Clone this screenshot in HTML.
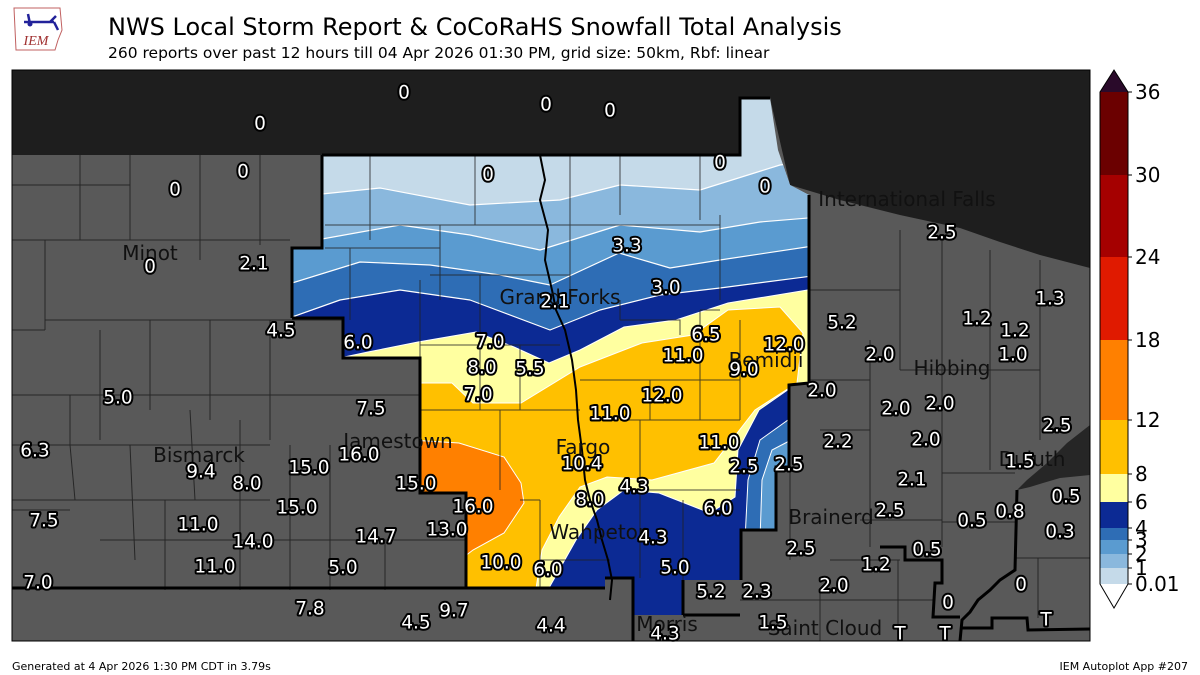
<!DOCTYPE html>
<html><head><meta charset="utf-8"><style>
html,body{margin:0;padding:0;background:#fff;}
svg{display:block;}
.v{font-family:"DejaVu Sans","Liberation Sans",sans-serif;font-size:18.5px;fill:#fff;stroke:#000;stroke-width:4;stroke-linejoin:round;paint-order:stroke;text-anchor:middle;dominant-baseline:central;}
.c{font-family:"DejaVu Sans","Liberation Sans",sans-serif;font-size:20px;fill:#111;text-anchor:middle;dominant-baseline:central;}
.cb{font-family:"DejaVu Sans","Liberation Sans",sans-serif;font-size:20px;fill:#000;dominant-baseline:central;}
</style></head><body>
<svg width="1200" height="675" viewBox="0 0 1200 675" xmlns="http://www.w3.org/2000/svg">
<defs>
<clipPath id="mc"><rect x="12" y="70" width="1078" height="571"/></clipPath>
<clipPath id="cr"><path d="M322,155 L740,155 L740,98 L770,98 L778,150 L790,185 L809,195 L809,383 L789,385 L789,467 L776,467 L776,530 L741,530 L741,580 L683,580 L683,615 L633,615 L633,578 L605,578 L605,588 L466,588 L466,493 L420,493 L420,358 L343,358 L343,318 L292,318 L292,248 L322,248 Z"/></clipPath>
</defs>
<g>
<path d="M14,8 L60,8 L62,30 L58,40 L55,50 L16,50 Z" fill="none" stroke="#c06060" stroke-width="1"/>
<path d="M24,22 L54,22 M30,24 L28,14 M50,22 L56,16 M54,22 L58,30" stroke="#22229a" stroke-width="2.5" fill="none"/>
<circle cx="30" cy="24" r="2.5" fill="#22229a"/>
<text x="36" y="45" font-family="Liberation Serif,serif" font-style="italic" font-size="14" fill="#a03030" text-anchor="middle">IEM</text>
</g>
<text x="108" y="35" font-family="DejaVu Sans,Liberation Sans,sans-serif" font-size="24" fill="#000">NWS Local Storm Report &amp; CoCoRaHS Snowfall Total Analysis</text>
<text x="108" y="58" font-family="DejaVu Sans,Liberation Sans,sans-serif" font-size="15.5" fill="#000">260 reports over past 12 hours till 04 Apr 2026 01:30 PM, grid size: 50km, Rbf: linear</text>

<g clip-path="url(#mc)">
<rect x="12" y="70" width="1078" height="571" fill="#1e1e1e"/>
<path d="M12,155 L322,155 L740,155 L740,98 L770,98 L790,185 L840,200 L900,215 L960,228 L1000,242 L1040,255 L1090,268 L1090,641 L12,641 Z" fill="#595959"/>
<path d="M1090,425 L1067,443 L1047,463 L1027,480 L1017,490 L1030,487 L1043,483 L1060,478 L1090,475 Z" fill="#262626"/>
<g stroke="#262626" stroke-width="1" fill="none">
<path d="M12,185 L130,185 M80,155 L80,240 M130,155 L130,240 M12,240 L290,240 M200,155 L200,260 M260,155 L260,245 M45,320 L345,320 M45,240 L45,330 M12,330 L45,330 M100,330 L100,440 M150,320 L150,410 M210,320 L210,420 M270,320 L270,440 M12,395 L420,395 M70,395 L70,445 M12,445 L270,445 M70,445 L75,500 M130,445 L135,560 M190,410 L195,500 M240,420 L240,590 M290,445 L290,590 M330,445 L330,590 M12,500 L270,500 M12,510 L70,510 M100,540 L465,540 M385,540 L385,590 M165,500 L165,590"/>
<path d="M810,290 L900,290 M900,230 L900,370 M942,240 L942,547 M810,380 L870,380 M870,340 L870,547 M990,250 L990,470 M1040,260 L1040,440 M900,370 L1040,370 M820,430 L870,430 M942,473 L1015,473 M942,522 L1015,522 M1015,558 L1090,558 M1038,558 L1038,618 M790,470 L790,560 M830,560 L900,560 M898,560 L898,641 M820,590 L820,641 M740,600 L933,600 M860,520 L942,520"/>
</g>
<g clip-path="url(#cr)">
<rect x="280" y="90" width="540" height="540" fill="#c5dae9"/>
<g stroke="#fff" stroke-width="1.2" stroke-linejoin="round">
<path d="M280,194 L322,194 L380,188 L470,205 L560,200 L620,185 L700,190 L780,165 L820,160 L820,630 L280,630 Z" fill="#8ab8dd"/>
<path d="M280,239 L322,239 L400,225 L470,235 L540,250 L620,225 L700,232 L760,222 L820,217 L820,630 L280,630 Z" fill="#5a9bd0"/>
<path d="M280,286 L292,283 L360,262 L430,265 L500,275 L550,285 L619,253 L670,268 L720,260 L820,245 L820,630 L280,630 Z" fill="#2e6db5"/>
<path d="M280,320 L292,317 L340,300 L400,290 L470,300 L550,330 L600,310 L660,295 L720,288 L820,275 L820,630 L280,630 Z" fill="#0c2a94"/>
</g>
<path d="M745,540 L748,480 L760,440 L795,415 L795,540 Z" fill="#2e6db5" stroke="#fff" stroke-width="1"/>
<path d="M760,540 L762,480 L772,450 L795,438 L795,540 Z" fill="#5a9bd0" stroke="#fff" stroke-width="1"/>
<path d="M330,360 L368,352 L418,342 L476,332 L514,347 L549,363 L580,350 L624,327 L676,320 L728,303 L820,288 L820,383 L789,389 L759,410 L738,450 L735,497 L710,513 L659,493 L624,490 L597,510 L576,540 L545,595 L410,595 L410,360 Z" fill="#ffffa0" stroke="#fff" stroke-width="1"/>
<path d="M410,383 L452,383 L473,403 L521,403 L580,367 L642,343 L693,335 L728,310 L780,307 L803,333 L797,383 L755,410 L714,463 L652,480 L607,477 L580,487 L559,517 L542,550 L535,595 L410,595 Z" fill="#ffc000" stroke="#fff" stroke-width="1"/>
<path d="M410,440 L459,443 L504,457 L521,483 L524,503 L504,533 L473,550 L460,560 L410,560 Z" fill="#ff8000" stroke="#fff" stroke-width="1"/>
<g stroke="#222" stroke-width="1" fill="none" opacity="0.8">
<path d="M370,155 L370,240 M475,155 L475,225 M570,155 L570,300 M620,155 L620,215 M700,155 L700,220 M720,215 L720,300 M325,225 L720,225 M325,248 L440,248 M440,225 L440,300 M350,248 L350,320 M420,280 L420,358 M430,275 L570,275 M480,275 L480,410 M420,345 L560,345 M420,410 L580,410 M520,345 L520,410 M500,410 L500,490 M580,380 L740,380 M650,380 L650,420 M700,310 L700,420 M620,420 L740,420 M640,420 L640,490 M640,490 L740,490 M520,500 L540,500 M540,500 L540,588 M540,560 L610,560 M640,490 L640,578 M683,500 L683,580 M740,320 L740,420 M620,320 L680,320 L680,335 M620,300 L620,320 M700,310 L720,310"/>
</g>
</g>
<g stroke="#000" stroke-width="3" fill="none">
<path d="M12,588 L605,588 M605,578 L633,578 L633,641 M683,580 L683,615 M683,615 L740,615"/>
<path d="M322,155 L740,155 L740,98 L770,98"/>
<path d="M292,318 L292,248 L322,248 L322,155"/>
<path d="M292,318 L343,318 L343,358 L420,358 L420,493 L466,493 L466,588"/>
<path d="M741,580 L741,530 L776,530 L776,467 L789,467 L789,385 L809,383 L809,195"/>
<path d="M880,547 L905,547 L905,560 L942,560 L942,583 L935,583 L933,617 L960,617"/>
<path d="M1017,490 L1015,570 L1000,580 L990,590 L978,600 L970,612 L962,620 L960,641"/>
<path d="M960,628 L992,628 L992,618 L1027,618 L1028,630 L1090,629"/>
</g>
<path d="M540,155 L545,180 L540,200 L548,230 L545,260 L552,290 L556,310 L565,330 L572,360 L576,390 L578,420 L582,450 L585,480 L590,500 L597,520 L602,540 L608,560 L612,580 L610,600" stroke="#000" stroke-width="2" fill="none"/>
</g>
<rect x="12" y="70" width="1078" height="571" fill="none" stroke="#000" stroke-width="1"/>

<text class="c" x="150" y="253">Minot</text>
<text class="c" x="398" y="441">Jamestown</text>
<text class="c" x="199" y="455">Bismarck</text>
<text class="c" x="560" y="297">Grand Forks</text>
<text class="c" x="766" y="360">Bemidji</text>
<text class="c" x="583" y="447">Fargo</text>
<text class="c" x="600" y="532">Wahpeton</text>
<text class="c" x="667" y="624">Morris</text>
<text class="c" x="825" y="628">Saint Cloud</text>
<text class="c" x="907" y="199">International Falls</text>
<text class="c" x="952" y="368">Hibbing</text>
<text class="c" x="1032" y="459">Duluth</text>
<text class="c" x="831" y="517">Brainerd</text>

<g class="v">
<text x="404" y="93">0</text><text x="546" y="105">0</text><text x="610" y="111">0</text><text x="260" y="124">0</text>
<text x="243" y="172">0</text><text x="175" y="190">0</text><text x="488" y="175">0</text><text x="720" y="163">0</text><text x="765" y="187">0</text>
<text x="150" y="267">0</text><text x="254" y="264">2.1</text><text x="281" y="331">4.5</text><text x="358" y="343">6.0</text>
<text x="118" y="398">5.0</text><text x="371" y="409">7.5</text><text x="359" y="455">16.0</text><text x="35" y="451">6.3</text>
<text x="201" y="472">9.4</text><text x="309" y="468">15.0</text><text x="247" y="484">8.0</text><text x="416" y="484">15.0</text>
<text x="473" y="507">16.0</text><text x="297" y="508">15.0</text><text x="44" y="521">7.5</text><text x="198" y="525">11.0</text>
<text x="253" y="542">14.0</text><text x="376" y="537">14.7</text><text x="447" y="530">13.0</text><text x="215" y="567">11.0</text>
<text x="343" y="568">5.0</text><text x="501" y="563">10.0</text><text x="548" y="570">6.0</text><text x="38" y="583">7.0</text>
<text x="310" y="609">7.8</text><text x="454" y="611">9.7</text><text x="416" y="623">4.5</text><text x="551" y="626">4.4</text>
<text x="665" y="634">4.3</text><text x="555" y="302">2.1</text><text x="627" y="246">3.3</text><text x="666" y="288">3.0</text>
<text x="490" y="342">7.0</text><text x="482" y="368">8.0</text><text x="530" y="369">5.5</text><text x="478" y="395">7.0</text>
<text x="706" y="335">6.5</text><text x="683" y="356">11.0</text><text x="784" y="345">12.0</text><text x="744" y="370">9.0</text>
<text x="662" y="396">12.0</text><text x="610" y="414">11.0</text><text x="582" y="464">10.4</text><text x="719" y="443">11.0</text>
<text x="744" y="467">2.5</text><text x="789" y="465">2.5</text><text x="634" y="487">4.3</text><text x="590" y="500">8.0</text>
<text x="718" y="509">6.0</text><text x="653" y="538">4.3</text><text x="675" y="568">5.0</text><text x="711" y="592">5.2</text>
<text x="757" y="592">2.3</text><text x="773" y="623">1.5</text><text x="942" y="233">2.5</text><text x="1050" y="299">1.3</text>
<text x="977" y="319">1.2</text><text x="1015" y="331">1.2</text><text x="1013" y="355">1.0</text><text x="842" y="323">5.2</text>
<text x="880" y="355">2.0</text><text x="822" y="391">2.0</text><text x="896" y="409">2.0</text><text x="940" y="404">2.0</text>
<text x="926" y="440">2.0</text><text x="838" y="442">2.2</text><text x="1057" y="426">2.5</text><text x="1020" y="462">1.5</text>
<text x="912" y="480">2.1</text><text x="1066" y="497">0.5</text><text x="890" y="511">2.5</text><text x="972" y="521">0.5</text>
<text x="1010" y="512">0.8</text><text x="1060" y="532">0.3</text><text x="927" y="550">0.5</text><text x="801" y="549">2.5</text>
<text x="876" y="565">1.2</text><text x="834" y="586">2.0</text><text x="948" y="603">0</text><text x="1021" y="585">0</text>
<text x="900" y="634">T</text><text x="945" y="634">T</text><text x="1046" y="620">T</text>
</g>

<g stroke="none">
<path d="M1100,92 L1114,70 L1128,92 Z" fill="#2a0a2a"/>
<rect x="1100" y="92" width="28" height="83" fill="#6b0000"/>
<rect x="1100" y="175" width="28" height="82" fill="#a50000"/>
<rect x="1100" y="257" width="28" height="83" fill="#e01a00"/>
<rect x="1100" y="340" width="28" height="80" fill="#ff8000"/>
<rect x="1100" y="420" width="28" height="54" fill="#ffc000"/>
<rect x="1100" y="474" width="28" height="28" fill="#ffffa0"/>
<rect x="1100" y="502" width="28" height="26" fill="#0c2a94"/>
<rect x="1100" y="528" width="28" height="12" fill="#2e6db5"/>
<rect x="1100" y="540" width="28" height="14" fill="#5a9bd0"/>
<rect x="1100" y="554" width="28" height="14" fill="#8ab8dd"/>
<rect x="1100" y="568" width="28" height="16" fill="#c5dae9"/>
<path d="M1100,584 L1128,584 L1114,608 Z" fill="#fff"/>
</g>
<path d="M1100,92 L1114,70 L1128,92 L1128,584 L1114,608 L1100,584 Z" fill="none" stroke="#000" stroke-width="1"/>
<g stroke="#000" stroke-width="1">
<path d="M1128,92h4M1128,175h4M1128,257h4M1128,340h4M1128,420h4M1128,474h4M1128,502h4M1128,528h4M1128,540h4M1128,554h4M1128,568h4M1128,584h4"/>
</g>
<g class="cb">
<text x="1135" y="92">36</text><text x="1135" y="175">30</text><text x="1135" y="257">24</text><text x="1135" y="340">18</text>
<text x="1135" y="420">12</text><text x="1135" y="474">8</text><text x="1135" y="502">6</text><text x="1135" y="528">4</text>
<text x="1135" y="540">3</text><text x="1135" y="554">2</text><text x="1135" y="568">1</text><text x="1135" y="584">0.01</text>
</g>

<text x="12" y="670" font-family="DejaVu Sans,Liberation Sans,sans-serif" font-size="11" fill="#000">Generated at 4 Apr 2026 1:30 PM CDT in 3.79s</text>
<text x="1188" y="670" font-family="DejaVu Sans,Liberation Sans,sans-serif" font-size="11" fill="#000" text-anchor="end">IEM Autoplot App #207</text>
</svg>
</body></html>
